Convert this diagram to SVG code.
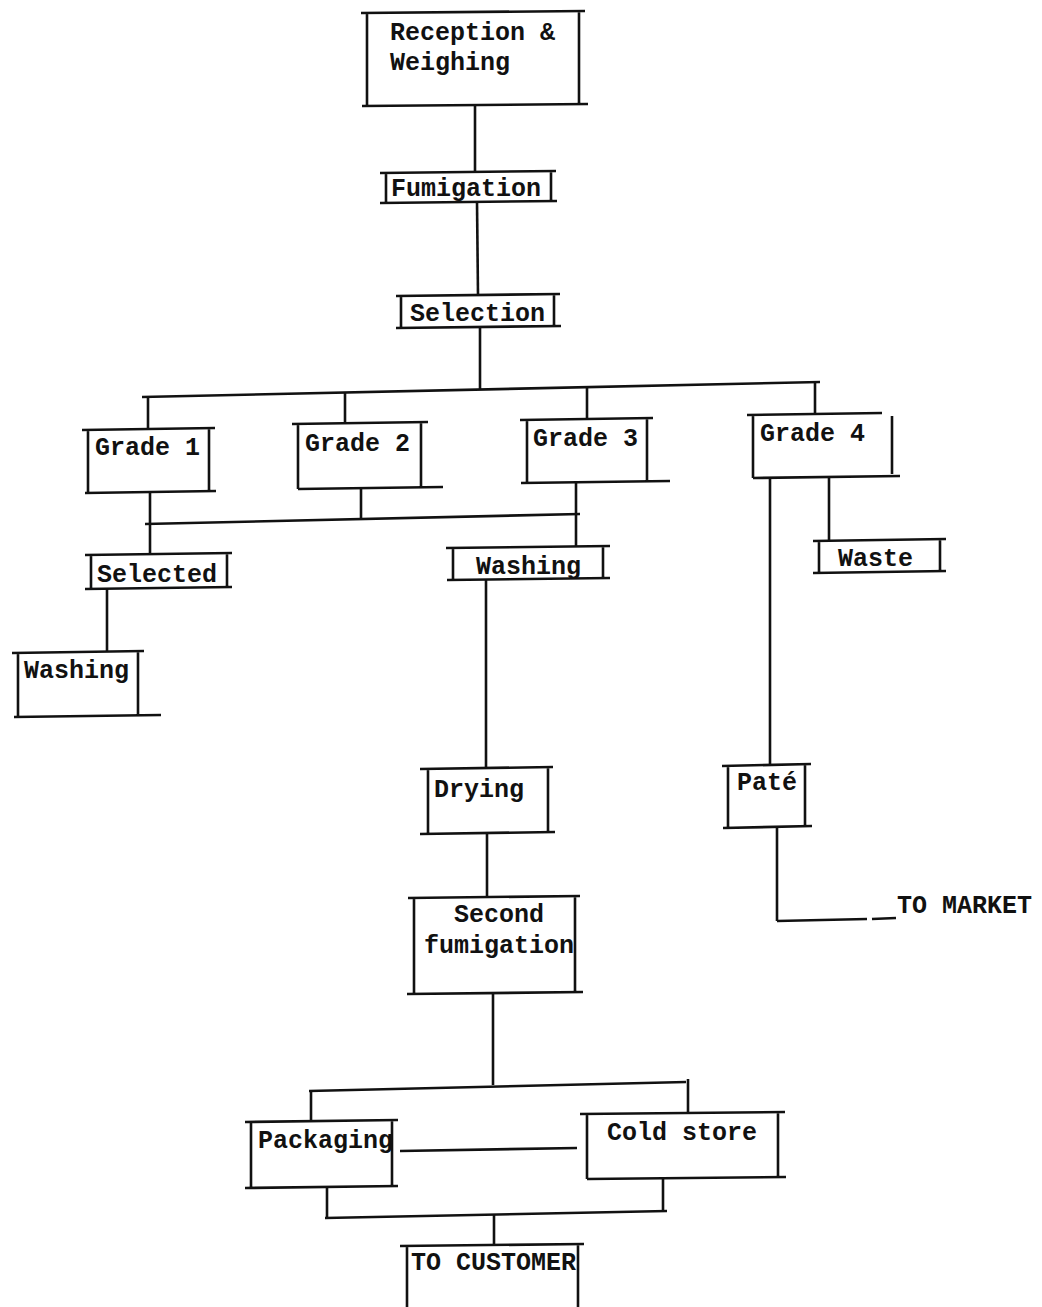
<svg xmlns="http://www.w3.org/2000/svg" width="1042" height="1307" viewBox="0 0 1042 1307">
<style>
.b{fill:none;stroke:#111;stroke-width:2.6;stroke-linecap:butt}
.c{fill:none;stroke:#111;stroke-width:2.6}
text{font-family:"Liberation Mono","DejaVu Sans Mono",monospace;font-weight:bold;font-size:25px;fill:#111}
</style>
<rect width="1042" height="1307" fill="#fff"/>
<g id="connectors">
<path class="c" d="M475,105V172"/>
<path class="c" d="M477,202L478,295"/>
<path class="c" d="M480,327V389"/>
<path class="c" d="M142,397L820,382"/>
<path class="c" d="M148,397V429"/>
<path class="c" d="M345,393V423"/>
<path class="c" d="M587,388V419"/>
<path class="c" d="M815,383V414"/>
<path class="c" d="M150,492V554"/>
<path class="c" d="M361,488V519"/>
<path class="c" d="M576,482V547"/>
<path class="c" d="M145,524L580,514"/>
<path class="c" d="M107,588V652"/>
<path class="c" d="M486,580V768"/>
<path class="c" d="M770,477V765"/>
<path class="c" d="M829,477V540"/>
<path class="c" d="M487,833V897"/>
<path class="c" d="M777,827V921"/>
<path class="c" d="M777,921L867,919"/>
<path class="c" d="M872,919L896,918"/>
<path class="c" d="M493,993V1085"/>
<path class="c" d="M309,1091L686,1082"/>
<path class="c" d="M311,1090V1121"/>
<path class="c" d="M688,1079V1113"/>
<path class="c" d="M400,1151L577,1148"/>
<path class="c" d="M327,1187V1218"/>
<path class="c" d="M663,1178V1211"/>
<path class="c" d="M325,1218L667,1211"/>
<path class="c" d="M494,1214V1245"/>
</g>
<g id="reception">
<path class="b" d="M361,13L585,11M367,12V106M579,11V105M362,106L588,104"/>
<text x="390" y="40">Reception &amp;</text>
<text x="390" y="70">Weighing</text>
</g>
<g id="fumigation">
<path class="b" d="M380,173L556,171M386,172V203M551,171V202M380,203L557,201"/>
<text x="391" y="196">Fumigation</text>
</g>
<g id="selection">
<path class="b" d="M396,296L560,294M401,295V328M554,294V327M396,328L561,326"/>
<text x="410" y="321">Selection</text>
</g>
<g id="grade1">
<path class="b" d="M82,430L215,428M88,429V493M209,428V492M85,493L216,491"/>
<text x="95" y="455">Grade 1</text>
</g>
<g id="grade2">
<path class="b" d="M292,424L428,422M298,423V489M421,422V488M298,489L443,487"/>
<text x="305" y="451">Grade 2</text>
</g>
<g id="grade3">
<path class="b" d="M520,420L653,418M527,419V483M647,418V482M521,483L670,481"/>
<text x="533" y="446">Grade 3</text>
</g>
<g id="grade4">
<path class="b" d="M747,415L882,413M753,414V478M892,416V474M753,478L900,476"/>
<text x="760" y="441">Grade 4</text>
</g>
<g id="selected">
<path class="b" d="M85,555L232,553M91,554V589M227,553V588M85,589L232,587"/>
<text x="97" y="582">Selected</text>
</g>
<g id="washing1">
<path class="b" d="M12,653L144,651M18,652V717M138,651V716M14,717L161,715"/>
<text x="24" y="678">Washing</text>
</g>
<g id="washing2">
<path class="b" d="M446,548L610,546M453,547V580M603,546V579M447,580L610,578"/>
<text x="476" y="574">Washing</text>
</g>
<g id="waste">
<path class="b" d="M813,541L946,539M819,540V573M940,539V572M813,573L946,571"/>
<text x="838" y="566">Waste</text>
</g>
<g id="drying">
<path class="b" d="M420,769L553,767M428,768V834M548,767V833M420,834L555,832"/>
<text x="434" y="797">Drying</text>
</g>
<g id="pate">
<path class="b" d="M722,766L811,764M728,765V828M805,764V827M723,828L812,826"/>
<text x="737" y="790">Paté</text>
</g>
<g id="to-market">
<text x="897" y="913">TO MARKET</text>
</g>
<g id="second-fumigation">
<path class="b" d="M408,898L580,896M414,897V994M575,896V993M407,994L583,992"/>
<text x="454" y="922">Second</text>
<text x="424" y="953">fumigation</text>
</g>
<g id="packaging">
<path class="b" d="M245,1122L398,1120M251,1121V1188M392,1120V1187M245,1188L398,1186"/>
<text x="258" y="1148">Packaging</text>
</g>
<g id="cold-store">
<path class="b" d="M580,1114L785,1112M587,1113V1179M778,1112V1178M587,1179L786,1177"/>
<text x="607" y="1140">Cold store</text>
</g>
<g id="to-customer">
<path class="b" d="M400,1246L584,1244M407,1245V1307M578,1244V1307"/>
<text x="411" y="1270">TO CUSTOMER</text>
</g>
</svg>
